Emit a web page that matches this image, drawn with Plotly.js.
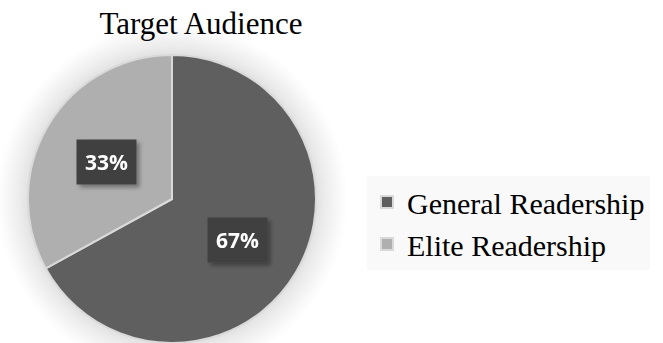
<!DOCTYPE html>
<html>
<head>
<meta charset="utf-8">
<script src="https://cdn.plot.ly/plotly-3.0.1.min.js"></script>
<style>
  html, body { margin: 0; padding: 0; background: #ffffff; }
  #chart {
    width: 663px; height: 343px;
    background: radial-gradient(circle 176px at 172px 199px,
      rgba(0,0,0,0.12) 0px, rgba(0,0,0,0.12) 143px,
      rgba(0,0,0,0.08) 152px, rgba(0,0,0,0.045) 162px, rgba(0,0,0,0.015) 170px, rgba(0,0,0,0) 176px), #ffffff;
  }
</style>
</head>
<body>
<div id="chart"></div>
<script>
const categories = ["General Readership", "Elite Readership"];
const values = [67, 33];
const colors = ["#5f5f5f", "#afafaf"];
const chartTitle = "Target Audience";

const W = 663, H = 343;
const cx = 172, cy = 199, R = 144;
const domX = [(cx - R) / W, (cx + R) / W];
const domY = [(H - cy - R) / H, (H - cy + R) / H];

// label positions derived from the data (clockwise from 12 o'clock)
const total = values.reduce((a, b) => a + b, 0);
let cum = 0;
const annotations = values.map((v) => {
  const mid = (cum + v / 2) / total * 2 * Math.PI;
  cum += v;
  const r = 0.53 * R;
  const px = cx + r * Math.sin(mid);
  const py = cy - r * Math.cos(mid) + 2;
  return {
    x: px / W, y: 1 - py / H, xref: "paper", yref: "paper",
    text: "<b>" + Math.round(v / total * 100) + "%</b>",
    showarrow: false,
    font: { family: "Open Sans, Noto Sans, sans-serif", size: 21, color: "#ffffff" },
    bgcolor: "#404040",
    borderpad: 8,
    xanchor: "center", yanchor: "middle"
  };
});

const data = [{
  type: "pie",
  labels: categories,
  values: values,
  marker: { colors: colors, line: { color: "#d9d9d9", width: 2 } },
  sort: false,
  direction: "clockwise",
  rotation: 0,
  textinfo: "none",
  hoverinfo: "label+percent",
  domain: { x: domX, y: domY }
}];

const layout = {
  width: W, height: H,
  margin: { l: 0, r: 0, t: 0, b: 0 },
  paper_bgcolor: "rgba(0,0,0,0)",
  title: {
    text: chartTitle,
    font: { family: "Liberation Serif, Times New Roman, serif", size: 31, color: "#000000" },
    x: 201 / W, xanchor: "center", xref: "paper",
    y: 1 - 23 / H, yanchor: "middle", yref: "container"
  },
  showlegend: true,
  legend: {
    x: 367 / W, xanchor: "left",
    y: 1 - 223 / H, yanchor: "middle",
    bgcolor: "#f9f9f9",
    font: { family: "Liberation Serif, Times New Roman, serif", size: 30, color: "#000000" },
    tracegroupgap: 0,
    itemwidth: 30
  },
  annotations: annotations
};

Plotly.newPlot("chart", data, layout, { displayModeBar: false, staticPlot: true }).then(() => {
  const svg = document.querySelector("#chart .main-svg");
  const NS = "http://www.w3.org/2000/svg";
  const defs = document.createElementNS(NS, "defs");
  svg.insertBefore(defs, svg.firstChild);
  defs.innerHTML =
    '<filter id="boxShadow" x="-30%" y="-30%" width="160%" height="160%">' +
    '<feGaussianBlur in="SourceAlpha" stdDeviation="2" result="b"/>' +
    '<feOffset dx="3" dy="3" in="b" result="o"/>' +
    '<feFlood flood-color="#000" flood-opacity="0.35"/>' +
    '<feComposite in2="o" operator="in" result="s"/>' +
    '<feMerge><feMergeNode in="s"/><feMergeNode in="SourceGraphic"/></feMerge>' +
    '</filter>';
  document.querySelectorAll("#chart .annotation-text-g").forEach(g => g.setAttribute("filter", "url(#boxShadow)"));
});
</script>
</body>
</html>
